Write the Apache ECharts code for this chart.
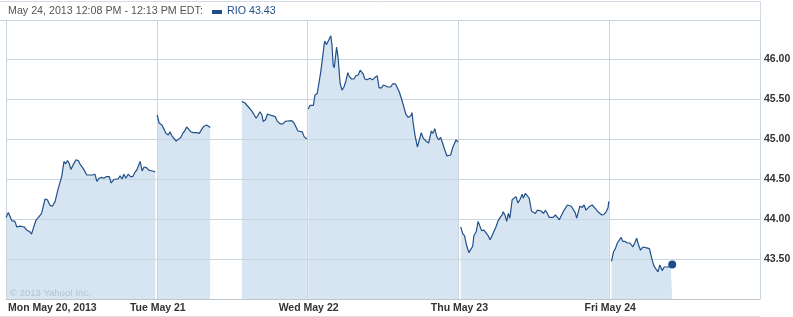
<!DOCTYPE html>
<html><head><meta charset="utf-8">
<script src="https://cdn.jsdelivr.net/npm/echarts/dist/echarts.min.js"></script>
<style>html,body{margin:0;padding:0;background:#fff}#c{width:793px;height:317px}</style>
</head><body><div id="c"></div>
<script>
// ---- data (minutes since 9:30 open, price) ----
const dayLabels = ['Mon May 20, 2013', 'Tue May 21', 'Wed May 22', 'Thu May 23', 'Fri May 24'];
const yTicks = [43.5, 44.0, 44.5, 45.0, 45.5, 46.0];
const headerText = 'May 24, 2013 12:08 PM - 12:13 PM EDT:';
const symbolName = 'RIO';
const copyright = '\u00A9 2013 Yahoo! Inc.';

const monMin = [0,6,15,23,28,36,41,47,54,62,66,71,78,84,88,92,101,107,114,120,127,135,144,150,154,159,163,168,174,181,187,191,200,204,209,215,224,230,235,241,247,253,260,267,272,278,284,290,295,300,305,310,316,322,328,333,338,343,347,352,357,364,369,374,379,383,386];
const monPx = [44.02,44.08,43.98,43.97,43.90,43.91,43.89,43.90,43.86,43.84,43.81,43.89,43.99,44.02,44.00,44.07,44.25,44.24,44.17,44.16,44.22,44.38,44.53,44.72,44.69,44.73,44.70,44.62,44.68,44.74,44.73,44.69,44.63,44.63,44.55,44.55,44.55,44.56,44.47,44.51,44.52,44.51,44.53,44.53,44.45,44.49,44.50,44.50,44.54,44.50,44.56,44.51,44.56,44.53,44.53,44.58,44.61,44.63,44.72,44.60,44.65,44.64,44.61,44.59,44.60,44.58,44.59];

const tueAmMin = [1,6,13,19,24,30,34,39,44,50,55,62,67,72,77,83,88,94,103,110,116,122,129,134,138];
const tueAmPx = [45.30,45.20,45.175,45.12,45.07,45.05,45.09,45.04,45.05,44.975,44.99,45.02,45.07,45.10,45.15,45.12,45.09,45.08,45.08,45.07,45.12,45.16,45.175,45.16,45.145];
const tuePmMin = [220,228,237,245,251,257,261,267,272,275,281,286,293,300,306,312,319,326,332,338,343,349,355,360,365,370,376,381,388];
const tuePmPx = [45.47,45.45,45.40,45.355,45.31,45.26,45.245,45.34,45.30,45.22,45.24,45.31,45.30,45.29,45.28,45.22,45.19,45.19,45.22,45.225,45.245,45.23,45.20,45.18,45.10,45.12,45.09,45.03,45.00];

const wedMin = [2,6,11,15,19,25,30,34,39,44,49,54,60,63,66,69,75,79,84,89,94,99,104,108,114,120,125,131,136,140,144,148,154,161,168,174,180,185,191,196,201,208,215,220,227,232,237,243,249,254,260,267,270,273,278,284,289,294,299,306,313,320,324,329,334,339,344,349,354,360,365,370,375,379,384,389];
const wedPx = [45.375,45.42,45.43,45.42,45.55,45.57,45.59,45.84,46.03,46.225,46.18,46.195,46.29,46.175,45.925,45.89,46.15,46.01,45.70,45.61,45.65,45.725,45.83,45.78,45.75,45.75,45.79,45.80,45.86,45.86,45.81,45.75,45.74,45.76,45.74,45.77,45.79,45.64,45.64,45.675,45.65,45.65,45.65,45.69,45.69,45.67,45.59,45.50,45.40,45.31,45.27,45.29,45.33,45.20,45.04,44.90,44.99,45.08,45.01,44.975,44.95,45.10,45.07,45.13,45.03,44.99,45.02,44.95,44.875,44.79,44.79,44.80,44.89,44.875,44.99,44.96];

const thuMin = [6,11,16,21,27,32,37,40,46,51,56,60,66,71,77,82,87,92,97,102,108,113,116,121,125,129,133,139,144,149,154,159,165,168,173,178,183,189,194,199,204,209,214,220,225,230,235,240,245,251,256,261,266,271,276,282,287,292,297,302,306,311,314,320,325,330,335,340,346,351,356,361,366,371,377,382,387,389];
const thuPx = [43.90,43.82,43.79,43.675,43.58,43.62,43.66,43.79,43.84,43.97,43.97,43.855,43.86,43.83,43.79,43.74,43.79,43.79,43.90,43.97,44.02,44.05,44.09,44.04,43.97,44.07,44.01,44.24,44.23,44.28,44.20,44.24,44.31,44.26,44.32,44.33,44.26,44.10,44.08,44.07,44.11,44.09,44.10,44.07,44.11,44.07,44.02,44.00,44.02,44.05,44.02,43.99,44.00,44.09,44.13,44.175,44.16,44.16,44.145,44.08,44.01,44.02,44.16,44.145,44.175,44.11,44.13,44.16,44.175,44.15,44.12,44.09,44.07,44.05,44.06,44.09,44.145,44.22];

const friMin = [6,11,16,21,26,31,35,41,47,54,61,66,71,76,81,87,92,97,104,107,111,116,121,126,131,137,142,147,152,159,163];
const friPx = [43.47,43.59,43.63,43.70,43.72,43.77,43.72,43.72,43.70,43.70,43.65,43.70,43.76,43.675,43.61,43.65,43.63,43.64,43.63,43.57,43.49,43.41,43.40,43.34,43.425,43.355,43.40,43.38,43.40,43.41,43.43];

const DAY_MIN = 390;
const segments = [[0, monMin, monPx], [1, tueAmMin, tueAmPx], [1, tuePmMin, tuePmPx], [2, wedMin, wedPx], [3, thuMin, thuPx], [4, friMin, friPx]];

const seriesData = [];
segments.forEach(([d, mins, px]) => {
  mins.forEach((m, i) => seriesData.push([d * DAY_MIN + m, px[i]]));
  seriesData.push([d * DAY_MIN + mins[mins.length - 1] + 0.5, '-']);
});
seriesData.pop();
const last = [4 * DAY_MIN + friMin[friMin.length - 1], friPx[friPx.length - 1]];

const FONT = 'Liberation Sans, Arial, sans-serif';
const GRID_C = '#c8d4de';
const LINE_C = '#22508a';

const chart = echarts.init(document.getElementById('c'), null, {renderer: 'canvas'});
chart.setOption({
  animation: false,
  grid: {left: 6, right: 33, top: 20, bottom: 18, outerBoundsMode: 'none', containLabel: false},
  xAxis: {
    type: 'value', min: 0, max: 5 * DAY_MIN, interval: DAY_MIN, z: 2,
    axisLine: {show: true, lineStyle: {color: '#bcc6cf', width: 1}},
    axisTick: {show: false},
    splitLine: {show: true, lineStyle: {color: GRID_C, width: 1}},
    axisLabel: {
      formatter: v => dayLabels[Math.round(v / DAY_MIN)] || '',
      alignMinLabel: 'left', padding: [0, 0, 0, 2],
      margin: 4, fontSize: 10.5, fontWeight: 'bold', color: '#333', fontFamily: FONT
    }
  },
  yAxis: {
    type: 'value', position: 'right', min: 43, max: 46.4875, interval: 0.5, z: 2,
    axisLine: {show: true, lineStyle: {color: GRID_C, width: 1}},
    axisTick: {show: false},
    splitLine: {show: true, lineStyle: {color: GRID_C, width: 1}},
    axisLabel: {
      formatter: v => yTicks.some(t => Math.abs(t - v) < 1e-6) ? v.toFixed(2) : '',
      margin: 4, fontSize: 10.5, fontWeight: 'bold', color: '#333', fontFamily: FONT
    }
  },
  series: [
    {type: 'line', data: seriesData, z: 1, symbol: 'none', silent: true, connectNulls: false,
     lineStyle: {width: 0, opacity: 0}, areaStyle: {color: '#d6e5f1', opacity: 1, origin: 'start'}},
    {type: 'line', data: seriesData, z: 3, symbol: 'none', silent: true, connectNulls: false,
     lineStyle: {width: 1.2, color: LINE_C}},
    {type: 'scatter', data: [last], z: 4, symbol: 'circle', symbolSize: 8, itemStyle: {color: '#1d4e8a', opacity: 1}, silent: true}
  ],
  graphic: [
    {type: 'line', z: 50, shape: {x1: 0, y1: 1.5, x2: 760.5, y2: 1.5}, style: {stroke: '#d3dce4', lineWidth: 1}},
    {type: 'line', z: 50, shape: {x1: 760.5, y1: 1.5, x2: 760.5, y2: 20.5}, style: {stroke: '#d3dce4', lineWidth: 1}},
    {type: 'line', z: 50, shape: {x1: 0, y1: 20.5, x2: 760.5, y2: 20.5}, style: {stroke: GRID_C, lineWidth: 1}},
    {type: 'line', z: 50, shape: {x1: 0, y1: 316.5, x2: 760.5, y2: 316.5}, style: {stroke: '#dedede', lineWidth: 1}},
    {type: 'text', z: 50, x: 8, y: 11, style: {text: headerText, font: '10.7px ' + FONT, fill: '#555', verticalAlign: 'middle'}},
    {type: 'rect', z: 50, shape: {x: 212, y: 10, width: 10, height: 4}, style: {fill: '#1d4e8a'}},
    {type: 'text', z: 50, x: 227, y: 11, style: {text: symbolName + ' ' + last[1].toFixed(2), font: '10.7px ' + FONT, fill: '#1d4e8a', verticalAlign: 'middle'}},
    {type: 'text', z: 50, x: 10, y: 293, style: {text: copyright, font: '9.5px ' + FONT, fill: '#b4c4d3', verticalAlign: 'middle'}}
  ]
});
</script>
</body></html>
